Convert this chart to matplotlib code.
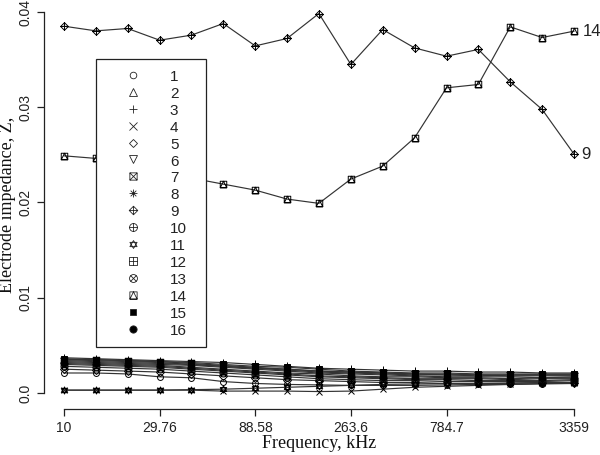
import matplotlib
matplotlib.use("Agg")
import matplotlib.pyplot as plt
from matplotlib.path import Path
from matplotlib.lines import Line2D
from matplotlib.ticker import FixedLocator, FixedFormatter, NullLocator

# ---------------- data ----------------
freq = [10, 14.37, 20.66, 29.76, 42.75, 61.5, 88.58, 127.3, 183.0,
        263.6, 379.0, 545.0, 784.7, 1128, 1623, 2335, 3359]

z1 = [0.0021, 0.0021, 0.0020, 0.0017, 0.0016, 0.0012, 0.0010, 0.0009, 0.00085,
      0.0008, 0.0008, 0.0008, 0.00085, 0.0009, 0.0009, 0.00095, 0.0010]
z2 = [0.0030, 0.0029, 0.0028, 0.0027, 0.0025, 0.0023, 0.0021, 0.0019, 0.0017,
      0.0016, 0.0015, 0.0014, 0.0014, 0.0013, 0.0013, 0.0013, 0.0014]
z3 = [0.0037, 0.0036, 0.0035, 0.0034, 0.0033, 0.0032, 0.0030, 0.0028, 0.0026,
      0.0025, 0.0024, 0.0023, 0.0023, 0.0022, 0.0022, 0.0021, 0.0021]
z4 = [0.0003, 0.0003, 0.0003, 0.0003, 0.0003, 0.0002, 0.0002, 0.0002, 0.00015,
      0.0002, 0.0004, 0.0006, 0.0007, 0.0008, 0.0009, 0.0010, 0.00105]
z5 = [0.0025, 0.0024, 0.0023, 0.0022, 0.0020, 0.0018, 0.0016, 0.0014, 0.0013,
      0.0012, 0.0011, 0.0011, 0.0010, 0.0010, 0.0010, 0.0011, 0.0011]
z6 = [0.0033, 0.0032, 0.0031, 0.0030, 0.0029, 0.0027, 0.0025, 0.0023, 0.0021,
      0.0020, 0.0019, 0.0018, 0.0017, 0.0017, 0.0017, 0.0016, 0.0017]
z7 = [0.0035, 0.0035, 0.0034, 0.0033, 0.0031, 0.0029, 0.0027, 0.0025, 0.0023,
      0.0022, 0.0021, 0.0020, 0.0020, 0.0019, 0.0019, 0.0019, 0.0019]
z8 = [0.0035, 0.0034, 0.0033, 0.0032, 0.0030, 0.0028, 0.0026, 0.0024, 0.0022,
      0.0021, 0.0020, 0.0019, 0.0019, 0.0018, 0.0019, 0.0019, 0.0019]
z9 = [0.03851, 0.03802, 0.03827, 0.03704, 0.03757, 0.03879, 0.03644, 0.03722, 0.03984,
      0.03449, 0.03816, 0.03623, 0.03536, 0.03607, 0.03267, 0.02977, 0.02508]
z10 = [0.0031, 0.0030, 0.0029, 0.0028, 0.0026, 0.0024, 0.0022, 0.0020, 0.0018,
       0.0017, 0.0016, 0.0015, 0.0015, 0.0015, 0.0014, 0.0015, 0.0015]
z11 = [0.0003, 0.0003, 0.0003, 0.0003, 0.00035, 0.0004, 0.0005, 0.0006, 0.0007,
       0.0008, 0.0009, 0.00095, 0.0010, 0.0010, 0.00105, 0.0011, 0.0011]
z12 = [0.0034, 0.0033, 0.0032, 0.0031, 0.0030, 0.0028, 0.0026, 0.0025, 0.0023,
       0.0022, 0.0021, 0.0020, 0.0019, 0.0019, 0.0018, 0.0018, 0.0018]
z13 = [0.0028, 0.0027, 0.0026, 0.0025, 0.0023, 0.0021, 0.0019, 0.0017, 0.0015,
       0.0014, 0.0013, 0.0013, 0.0012, 0.0012, 0.0012, 0.0012, 0.0013]
z14 = [0.02490, 0.02463, 0.02392, 0.02330, 0.02256, 0.02193, 0.02130, 0.02036, 0.01991,
       0.02246, 0.02382, 0.02679, 0.03204, 0.03239, 0.03844, 0.03732, 0.03799]
z15 = [0.0036, 0.0035, 0.0034, 0.0033, 0.0032, 0.0030, 0.0028, 0.0027, 0.0025,
       0.0023, 0.0022, 0.0021, 0.0021, 0.0020, 0.0020, 0.0020, 0.0020]
z16 = [0.0032, 0.0031, 0.0030, 0.0029, 0.0027, 0.0025, 0.0023, 0.0021, 0.0020,
       0.0018, 0.0017, 0.0017, 0.0016, 0.0016, 0.0015, 0.0016, 0.0016]

series = [z1, z2, z3, z4, z5, z6, z7, z8, z9, z10, z11, z12, z13, z14, z15, z16]
labels = [str(i) for i in range(1, 17)]
xtick_vals = [10, 29.76, 88.58, 263.6, 784.7, 3359]
xtick_labels = ["10", "29.76", "88.58", "263.6", "784.7", "3359"]
ytick_vals = [0.0, 0.01, 0.02, 0.03, 0.04]
ytick_labels = ["0.0", "0.01", "0.02", "0.03", "0.04"]

# ---------------- R-like pch markers ----------------
M, L, C = Path.MOVETO, Path.LINETO, Path.CLOSEPOLY


def poly(pts):
    return Path(list(pts) + [pts[0]], [M] + [L] * (len(pts) - 1) + [C])


def segs(*pairs):
    v, c = [], []
    for a, b in pairs:
        v += [a, b]
        c += [M, L]
    return Path(v, c)


def comp(*paths):
    return Path.make_compound_path(*paths)


sq = poly([(-1, -1), (1, -1), (1, 1), (-1, 1)])
circ = Path.unit_circle()
dia = poly([(0, -1.3), (1.3, 0), (0, 1.3), (-1.3, 0)])
plus = segs(((-1, 0), (1, 0)), ((0, -1), (0, 1)))
xx = segs(((-1, -1), (1, 1)), ((-1, 1), (1, -1)))
xs = segs(((-0.71, -0.71), (0.71, 0.71)), ((-0.71, 0.71), (0.71, -0.71)))
tup = poly([(-1, -0.6), (1, -0.6), (0, 1.1)])
tdn = poly([(-1, 0.6), (1, 0.6), (0, -1.1)])

pch = {
    1: dict(marker="o", ms=5, mfc="none"),
    2: dict(marker="^", ms=5.5, mfc="none"),
    3: dict(marker="+", ms=6.5),
    4: dict(marker="x", ms=5.5),
    5: dict(marker="D", ms=4.5, mfc="none"),
    6: dict(marker="v", ms=5.5, mfc="none"),
    7: dict(marker=comp(sq, xx), ms=5.5, mfc="none"),
    8: dict(marker=comp(plus, xs), ms=6, mfc="none"),
    9: dict(marker=comp(dia, segs(((-1.3, 0), (1.3, 0)), ((0, -1.3), (0, 1.3)))), ms=6.5, mfc="none"),
    10: dict(marker=comp(circ, plus), ms=6, mfc="none"),
    11: dict(marker=comp(tup, tdn), ms=6, mfc="none"),
    12: dict(marker=comp(sq, plus), ms=5.5, mfc="none"),
    13: dict(marker=comp(circ, xs), ms=6, mfc="none"),
    14: dict(marker=comp(sq, poly([(-1, -1), (1, -1), (0, 1)])), ms=5.5, mfc="none"),
    15: dict(marker="s", ms=5, mfc="black"),
    16: dict(marker="o", ms=5.5, mfc="black"),
}

# ---------------- figure ----------------
W, H = 600, 455
fig = plt.figure(figsize=(W / 100, H / 100), dpi=100)
left_px, right_px, bottom_px, top_px = 44, 594, 409, 0
ax = fig.add_axes([left_px / W, 1 - bottom_px / H, (right_px - left_px) / W, (bottom_px - top_px) / H])

line_col = "#333333"
for i, (ys, lab) in enumerate(zip(series, labels), start=1):
    st = pch[i]
    ax.plot(freq, ys, color=line_col, lw=0.85, marker=st["marker"], ms=st["ms"] * 0.85,
            mfc=st.get("mfc", "none"), mec="black", mew=0.7, zorder=2)

ax.set_xscale("log")
ax.set_xlim(7.96, 4219)
ax.set_ylim(-0.00168, 0.04126)

for s in ["top", "right"]:
    ax.spines[s].set_visible(False)
ax.spines["left"].set_bounds(0.0, 0.04)
ax.spines["bottom"].set_bounds(10, 3359)
for s in ["left", "bottom"]:
    ax.spines[s].set_linewidth(0.9)
    ax.spines[s].set_color("#222222")

ax.xaxis.set_major_locator(FixedLocator(xtick_vals))
ax.xaxis.set_major_formatter(FixedFormatter(xtick_labels))
ax.xaxis.set_minor_locator(NullLocator())
ax.set_yticks(ytick_vals)
ax.set_yticklabels(ytick_labels, rotation=90, va="center")
ax.tick_params(axis="both", direction="out", length=5, width=0.9, color="#222222",
               labelsize=10, labelcolor="#222222")
ax.tick_params(axis="x", pad=4)
ax.tick_params(axis="y", pad=3)
for t in ax.get_xticklabels() + ax.get_yticklabels():
    t.set_family("Liberation Sans")

ax.set_xlabel("Frequency, kHz", family="Liberation Serif", fontsize=13, labelpad=0, color="#111111")
ax.set_ylabel("Electrode impedance, Z,", family="Liberation Serif", fontsize=13, labelpad=2, color="#111111")

# end labels
ax.annotate("14", (freq[-1], z14[-1]), xytext=(6, 0), textcoords="offset points",
            va="center", ha="left", fontsize=12, family="Liberation Sans", color="#222222")
ax.annotate("9", (freq[-1], z9[-1]), xytext=(5, 0), textcoords="offset points",
            va="center", ha="left", fontsize=12, family="Liberation Sans", color="#222222")

# legend
handles = []
for i in range(1, 17):
    st = pch[i]
    handles.append(Line2D([], [], ls="none", marker=st["marker"], ms=st["ms"] * 0.95,
                          mfc=st.get("mfc", "none"), mec="#222222", mew=0.6))
fs_pt = 11
leg = ax.legend(handles, labels, loc="upper left",
                bbox_to_anchor=(96 / W, 1 - 345 / H, 110 / W, 286 / H),
                bbox_transform=fig.transFigure, mode="expand", borderaxespad=0,
                prop={"family": "Liberation Sans", "size": fs_pt},
                frameon=True, fancybox=False, framealpha=1, edgecolor="#222222",
                borderpad=0.65, labelspacing=0.12, handlelength=3.55, handleheight=1.0,
                handletextpad=0.64, numpoints=1)
leg.get_frame().set_linewidth(0.9)
leg.set_zorder(5)
for t in leg.get_texts():
    t.set_color("#222222")

fig.savefig("out.png", dpi=100)
